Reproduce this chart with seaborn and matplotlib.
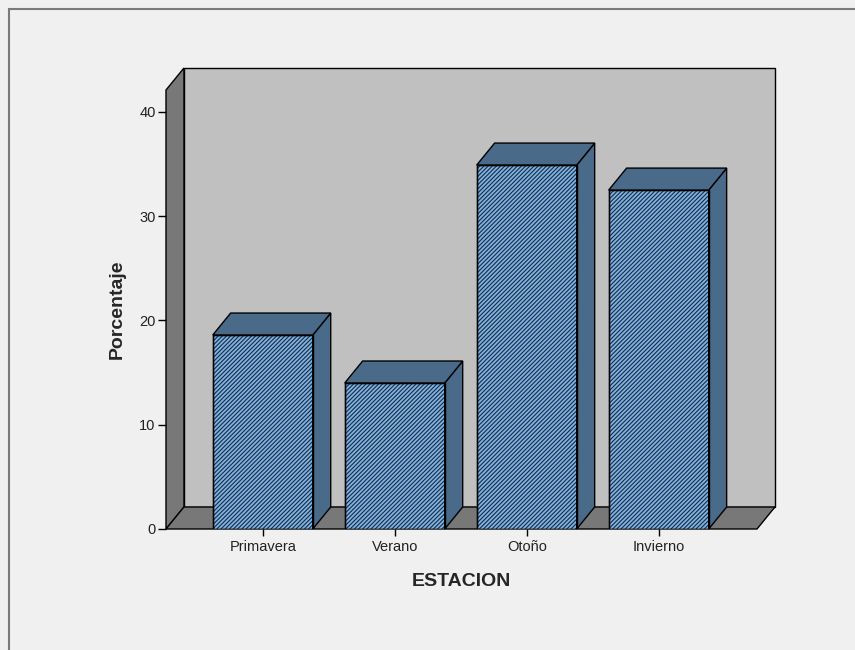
import matplotlib
matplotlib.use("Agg")
import matplotlib.pyplot as plt
from matplotlib.patches import Polygon, Rectangle
import pandas as pd
import seaborn as sns

# Percentage of cases per season
estaciones = ["Primavera", "Verano", "Otoño", "Invierno"]
porcentajes = [18.6, 14.0, 34.9, 32.5]
y_ticks = [0, 10, 20, 30, 40]

df = pd.DataFrame({"ESTACION": estaciones, "Porcentaje": porcentajes})

sns.set_style("white")
plt.rcParams["font.family"] = ["Liberation Sans", "DejaVu Sans"]
plt.rcParams["hatch.linewidth"] = 0.8

FRONT = "#7db3e6"
SHADE = "#4a6a8a"
WALL = "#c0c0c0"
SIDE = "#787878"
BG = "#f0f0f0"

fig = plt.figure(figsize=(8.55, 6.5), dpi=100, facecolor=BG)
ax = fig.add_axes([166 / 855, (650 - 529) / 650, 591 / 855, 439 / 650])
ax.set_facecolor("none")

x_lo, x_hi = -0.733, 3.745
y_top = 42.1
dx, dy = 0.136, 2.11

sns.barplot(data=df, x="ESTACION", y="Porcentaje", ax=ax, width=0.758,
            color=FRONT, saturation=1, edgecolor="#1b2a3c", linewidth=1.0,
            hatch="////////", errorbar=None)
bars = list(ax.patches)

# 3D chart box: back wall, left wall and floor
ax.add_patch(Rectangle((x_lo + dx, dy), x_hi - x_lo, y_top, facecolor=WALL,
                       edgecolor="black", linewidth=1.0, zorder=0.3, clip_on=False))
ax.add_patch(Polygon([(x_lo, 0), (x_lo + dx, dy), (x_lo + dx, y_top + dy), (x_lo, y_top)],
                     closed=True, facecolor=SIDE, edgecolor="black", linewidth=1.0,
                     zorder=0.4, clip_on=False))
ax.add_patch(Polygon([(x_lo, 0), (x_hi, 0), (x_hi + dx, dy), (x_lo + dx, dy)],
                     closed=True, facecolor=SIDE, edgecolor="black", linewidth=1.0,
                     zorder=0.5, clip_on=False))

# Front outline, top and right faces of each bar
for b in bars:
    x0, w, h = b.get_x(), b.get_width(), b.get_height()
    b.set_zorder(2)
    ax.add_patch(Rectangle((x0, 0), w, h, facecolor="none", edgecolor="black",
                           linewidth=1.0, zorder=2.1))
    ax.add_patch(Polygon([(x0 + w, 0), (x0 + w + dx, dy), (x0 + w + dx, h + dy), (x0 + w, h)],
                         closed=True, facecolor=SHADE, edgecolor="black",
                         linewidth=1.0, zorder=2, clip_on=False))
    ax.add_patch(Polygon([(x0, h), (x0 + dx, h + dy), (x0 + w + dx, h + dy), (x0 + w, h)],
                         closed=True, facecolor=SHADE, edgecolor="black",
                         linewidth=1.0, zorder=2, clip_on=False))

ax.set_xlim(x_lo, x_hi)
ax.set_ylim(0, y_top)
ax.set_yticks(y_ticks)
for s in ax.spines.values():
    s.set_visible(False)

ax.tick_params(axis="y", left=True, direction="out", length=6, width=1.0,
               color="black", pad=1.5, labelsize=10.5, labelcolor="#222222")
ax.tick_params(axis="x", bottom=True, direction="out", length=5, width=1.0,
               color="black", pad=3, labelsize=10.5, labelcolor="#222222")

ax.set_xlabel("ESTACION", fontsize=14, fontweight="bold", va="center")
ax.set_ylabel("Porcentaje", fontsize=14, fontweight="bold", va="center")
ax.xaxis.set_label_coords(0.5, (529 - 581) / 439)
ax.yaxis.set_label_coords((117 - 166) / 591, 0.5)

# Outer frame
fig.add_artist(Rectangle((8.5 / 855, -0.1), 1.2, (650 - 8.5) / 650 + 0.1,
                         transform=fig.transFigure, facecolor="none",
                         edgecolor="#7a7a7a", linewidth=1.5))

fig.savefig("out.png", dpi=100, facecolor=BG)
